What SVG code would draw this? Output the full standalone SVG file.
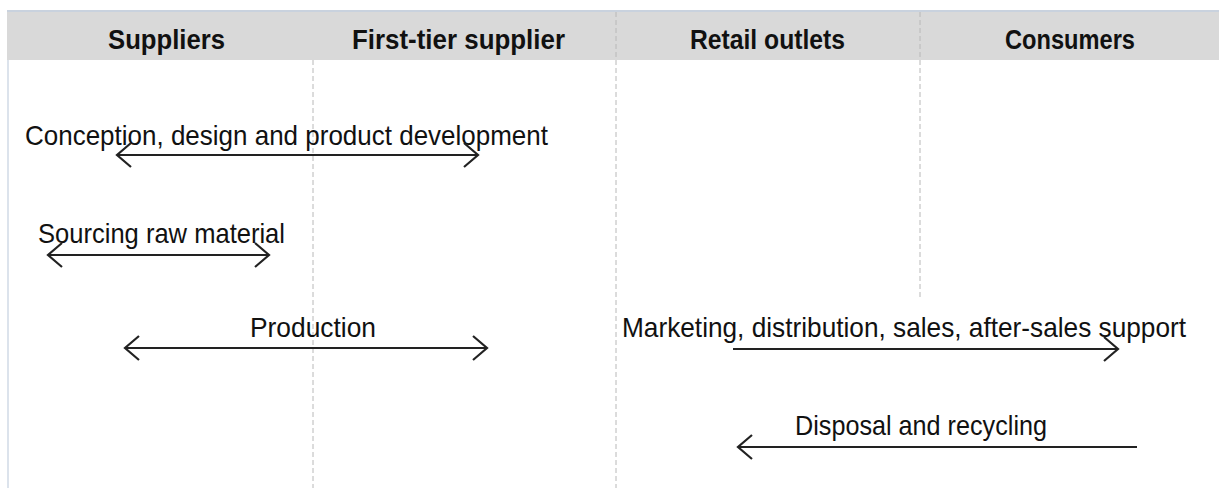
<svg xmlns="http://www.w3.org/2000/svg" width="1219" height="488" viewBox="0 0 1219 488">
<style>
.hdr{font-family:"Liberation Sans",Arial,sans-serif;font-weight:bold;font-size:27px;fill:#111}
.lbl{font-family:"Liberation Sans",Arial,sans-serif;font-size:28px;fill:#111}
.dash{stroke:#b8b8b8;stroke-width:1;stroke-dasharray:5,3;fill:none}
.arr{stroke:#222;stroke-width:2.2;fill:none}
</style>
<defs>
<marker id="ah" viewBox="0 0 18 26" refX="16" refY="13" markerWidth="18" markerHeight="26" markerUnits="userSpaceOnUse" orient="auto-start-reverse">
<path d="M2,1 L16,13 L2,25" fill="none" stroke="#222" stroke-width="2.2"/>
</marker>
</defs>
<rect x="0" y="0" width="1219" height="488" fill="#fff"/>
<g id="header">
<rect x="7" y="10" width="1212" height="50" fill="#d9d9d9"/>
<line x1="7" y1="11" x2="1219" y2="11" stroke="#c9d2de" stroke-width="2"/>
<line x1="8" y1="60" x2="8" y2="488" stroke="#dce3ec" stroke-width="2"/>
<text class="hdr" x="108" y="49" textLength="117" lengthAdjust="spacingAndGlyphs">Suppliers</text>
<text class="hdr" x="352" y="49" textLength="213" lengthAdjust="spacingAndGlyphs">First-tier supplier</text>
<text class="hdr" x="690" y="49" textLength="155" lengthAdjust="spacingAndGlyphs">Retail outlets</text>
<text class="hdr" x="1005" y="49" textLength="130" lengthAdjust="spacingAndGlyphs">Consumers</text>
</g>
<g id="lanes">
<line class="dash" x1="313" y1="60" x2="313" y2="488"/>
<line class="dash" x1="616" y1="12" x2="616" y2="488"/>
<line class="dash" x1="920" y1="12" x2="920" y2="300"/>
</g>
<g id="labels">
<text id="conception" class="lbl" x="25" y="145" textLength="523" lengthAdjust="spacingAndGlyphs">Conception, design and product development</text>
<text id="sourcing" class="lbl" x="38" y="243" textLength="247" lengthAdjust="spacingAndGlyphs">Sourcing raw material</text>
<text id="production" class="lbl" x="250" y="337" textLength="126" lengthAdjust="spacingAndGlyphs">Production</text>
<text id="marketing" class="lbl" x="622" y="337" textLength="564" lengthAdjust="spacingAndGlyphs">Marketing, distribution, sales, after-sales support</text>
<text id="disposal" class="lbl" x="795" y="435" textLength="252" lengthAdjust="spacingAndGlyphs">Disposal and recycling</text>
</g>
<g id="connectors">
<line class="arr" x1="117" y1="155" x2="478" y2="155" marker-start="url(#ah)" marker-end="url(#ah)"/>
<line class="arr" x1="48" y1="255" x2="269" y2="255" marker-start="url(#ah)" marker-end="url(#ah)"/>
<line class="arr" x1="125" y1="348" x2="487" y2="348" marker-start="url(#ah)" marker-end="url(#ah)"/>
<line class="arr" x1="733" y1="349" x2="1118" y2="349" marker-end="url(#ah)"/>
<line class="arr" x1="1137" y1="447" x2="738" y2="447" marker-end="url(#ah)"/>
</g>
</svg>
